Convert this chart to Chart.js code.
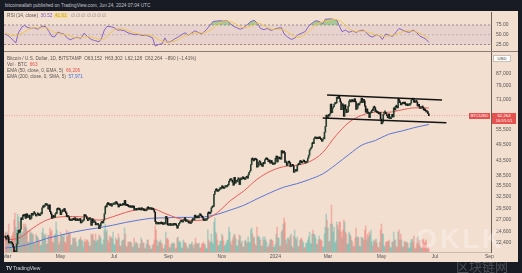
<!DOCTYPE html>
<html><head><meta charset="utf-8">
<script src="https://cdn.jsdelivr.net/npm/chart.js@4.4.1/dist/chart.umd.min.js"></script>
<style>
html,body{margin:0;padding:0;background:#181b24;width:522px;height:273px;overflow:hidden;font-family:"Liberation Sans",Arial,sans-serif;}
#panel{position:absolute;left:4px;top:11px;width:514px;height:251px;background:#f2dfd0;}
#sep{position:absolute;left:4px;top:51px;width:514px;height:1px;background:#8a7d74;}
canvas{position:absolute;}
.t{position:absolute;white-space:nowrap;font-size:4.7px;line-height:6px;color:#5a5550;}
.tag{position:absolute;color:#fff;background:#e4514e;font-size:4.3px;line-height:5px;text-align:center;white-space:nowrap;}
</style></head><body>
<div id="panel"></div>
<canvas id="rsi" width="514" height="39" style="left:4px;top:12px;width:514px;height:39px"></canvas>
<div id="sep"></div>
<canvas id="main" width="514" height="210" style="left:4px;top:52px;width:514px;height:210px"></canvas>

<div class="t" style="left:5px;top:3px;color:#c3c6ce">bitcoinwallah published on TradingView.com, Jun 24, 2024 07:04 UTC</div>
<div class="t" style="left:7px;top:13px">RSI (14, close) <span style="color:#7e57c2">&nbsp;30.52&nbsp;</span><span style="color:#c9a227;background:rgba(247,214,90,0.45)">&nbsp;41.61&nbsp;</span> <span style="color:#8a8580">&nbsp;∅ ∅ ∅ ∅ ∅ ∅ ∅</span></div>
<div class="t" style="left:7px;top:55.5px">Bitcoin / U.S. Dollar, 1D, BITSTAMP &nbsp;O63,152 &nbsp;H63,302 &nbsp;L62,128 &nbsp;C62,264 &nbsp;−890 (−1.41%)</div>
<div class="t" style="left:7px;top:61.7px">Vol · BTC <span style="color:#e4514e">&nbsp;663</span></div>
<div class="t" style="left:7px;top:67.9px">EMA (50, close, 0, EMA, 5) <span style="color:#e4514e">&nbsp;66,206</span></div>
<div class="t" style="left:7px;top:74px">EMA (200, close, 0, SMA, 5) <span style="color:#3f6fd8">&nbsp;57,971</span></div>
<div style="position:absolute;left:493px;top:55px;width:18px;height:7px;background:#fff;border:0.5px solid #c8bfb8;box-sizing:border-box;font-size:4.3px;line-height:6px;text-align:center;color:#333">USD</div>
<div id="symTag" class="tag" style="left:469px;width:21px;height:6px;line-height:6px">BTCUSD</div>
<div id="priceTag" class="tag" style="left:492px;width:24px;height:11px;padding-top:0.5px;box-sizing:border-box">62,264<br>10:55:51</div>
<div style="position:absolute;left:416px;top:224px;font-size:27px;font-weight:bold;letter-spacing:3px;color:rgba(255,255,255,0.3);white-space:nowrap">OKLK</div>
<div style="position:absolute;left:456px;top:258px;font-size:13px;line-height:15px;font-family:'Noto Sans CJK SC';color:rgba(255,255,255,0.22);white-space:nowrap">区块链网</div>
<div class="t" style="left:6px;top:265px;font-size:5px;color:#d4d6dc"><b style="letter-spacing:-0.4px">TV</b> TradingView</div>

<script>
const FONT = '"Liberation Sans", Arial, sans-serif';
const startDay = -2;           // Feb 27, 2023 (day 0 = Mar 1, 2023)
const firstOpen = 235;          // hundreds of USD
// daily closes, hundreds of USD, Feb 27 2023 .. Jun 24 2024
const closes = [234,231,
236,235,224,224,224,224,222,217,204,202,206,222,242,248,244,250,274,270,280,278,282,273,283,275,275,280,271,273,284,280,285,
285,282,278,282,282,280,279,283,283,297,302,299,304,305,303,303,294,304,288,283,273,278,276,275,283,284,295,293,293,292,
281,287,290,289,295,289,285,277,276,276,270,268,268,269,272,270,274,268,269,271,268,269,272,263,265,267,269,281,278,277,272,
268,273,271,271,258,272,264,265,265,259,259,259,259,251,256,263,265,263,269,283,300,299,307,306,305,303,307,301,305,305,
306,306,312,308,305,299,304,303,302,304,306,304,315,303,303,302,301,299,299,298,299,298,301,292,292,294,292,293,294,293,292,
297,292,292,291,290,290,292,298,296,294,294,294,293,294,292,287,266,261,261,262,261,261,264,262,261,260,261,261,277,273,259,
258,259,260,258,258,258,262,259,259,258,252,258,262,265,266,266,265,268,272,271,266,266,266,263,263,262,264,270,269,270,
280,275,274,278,274,280,280,279,276,274,269,268,269,269,272,285,284,283,287,297,299,300,331,339,345,342,339,341,345,345,347,
354,349,347,351,351,351,354,357,367,373,371,371,365,356,379,362,366,366,374,375,358,374,373,377,378,375,373,378,379,377,
387,395,400,420,441,438,433,442,437,438,412,415,429,430,419,422,414,427,423,437,439,440,437,430,436,425,434,426,421,421,423,
442,450,429,442,442,440,439,470,461,466,463,428,429,417,425,432,427,413,416,417,416,395,399,401,399,418,421,420,433,429,426,
431,432,430,426,427,431,443,453,472,478,483,500,497,518,519,521,517,521,518,523,519,513,507,516,517,545,571,625,612,
624,621,632,683,638,661,669,683,685,690,721,715,731,714,695,653,684,676,619,679,655,638,641,672,700,700,695,708,699,696,713,
697,655,660,685,678,689,694,716,691,706,701,672,640,657,634,638,613,635,638,650,649,668,664,643,645,638,635,631,638,606,
583,591,629,639,640,632,623,612,631,608,608,615,629,616,663,652,671,669,663,715,701,691,679,685,693,685,694,683,676,684,675,
677,678,688,706,711,708,694,693,697,695,673,682,668,660,662,666,665,652,650,648,641,643,632,622.64];
// daily volume (relative units)
const volumes = [20,18,
20,18,28,10,9,15,17,20,32,39,25,22,38,35,30,22,33,18,20,28,25,28,25,22,10,10,22,18,20,18,17,
9,8,18,16,15,13,11,6,7,20,24,18,16,18,8,8,17,16,24,20,22,10,9,17,18,30,22,15,7,10,
20,16,18,15,18,10,9,22,15,20,18,20,7,7,14,13,14,14,10,5,6,12,13,15,12,11,5,10,13,10,12,
12,10,6,6,18,17,18,12,11,18,10,12,12,17,16,14,8,7,12,22,28,20,22,12,9,16,14,15,13,20,
8,7,14,12,12,18,14,6,6,11,12,12,24,18,6,5,10,10,10,10,9,5,5,14,8,10,9,8,4,4,8,
14,12,9,9,4,3,8,12,12,7,6,3,3,7,8,12,26,22,12,6,10,10,12,9,8,4,3,7,20,13,14,
12,5,4,8,8,9,9,8,3,4,14,15,10,11,9,4,4,12,10,9,9,6,3,4,8,7,8,10,7,4,
8,14,9,8,8,9,4,4,8,8,10,8,7,3,4,22,12,9,10,18,10,8,30,34,20,18,12,6,7,11,11,
18,16,11,6,7,9,12,12,25,20,10,7,12,15,18,17,13,6,6,12,17,16,9,11,5,5,11,12,10,9,
15,10,9,22,24,18,14,15,8,6,25,15,16,14,12,6,6,15,12,15,12,10,5,5,8,12,13,12,11,5,5,
8,18,25,14,14,6,6,20,22,28,34,30,12,8,14,14,12,16,18,6,4,16,22,14,12,15,5,6,12,13,14,
11,9,4,5,9,9,12,15,20,9,8,18,22,18,17,14,8,7,12,16,13,12,11,5,5,18,25,38,32,
24,10,11,28,47,28,20,25,9,11,30,27,22,30,30,20,14,22,32,30,20,18,8,8,20,18,16,12,10,5,6,
14,24,15,15,14,6,5,15,14,14,12,22,26,12,18,15,20,17,22,10,6,12,10,12,13,9,5,4,10,22,
28,18,18,7,5,10,10,11,10,12,5,4,10,10,20,12,12,5,5,20,22,12,18,12,5,5,10,11,9,10,9,
4,4,9,12,13,10,16,4,3,8,14,16,11,12,4,4,12,13,9,10,12,3,5,3];

const emaDays = [-2,15,30,45,60,75,90,105,120,135,150,165,180,195,210,225,240,255,270,285,300,315,330,345,360,375,390,405,420,435,450,465,481];
const ema50  = [22900,23400,25300,26900,27600,27700,27500,26900,27600,28600,29300,29500,28400,27300,26800,27000,28600,31500,34000,37300,39800,41300,41800,43000,46300,53000,59000,62500,64000,64000,65200,66300,66206];
const ema200 = [21500,21800,22400,23200,23800,24400,24900,25300,25800,26400,26900,27300,27400,27500,27500,27600,28200,29200,30300,31900,33500,35000,36000,37300,39000,42000,45600,49200,51000,53600,55000,56600,57971];

const rsiDays = [-2,3,7,10,13,17,20,23,28,31,35,40,44,48,51,54,58,61,65,68,72,76,80,84,88,92,96,100,105,108,111,114,118,122,126,130,134,138,142,146,150,154,158,162,166,169,173,177,180,183,187,191,195,199,203,207,211,214,218,222,226,230,235,239,243,247,251,254,258,262,266,270,274,278,282,286,289,293,297,301,305,309,313,316,320,324,328,332,336,340,344,348,352,356,360,363,366,369,373,376,379,382,386,390,394,398,402,406,410,413,417,421,425,428,432,436,440,444,447,451,455,459,463,467,471,475,478,481];
const rsiVals = [52,45,36,29,55,70,74,69,66,68,64,72,71,58,46,44,57,54,52,43,37,41,44,40,54,45,38,35,32,42,62,71,71,68,62,62,60,55,52,50,51,48,49,46,42,21,25,27,42,30,33,39,44,50,55,49,55,60,56,52,60,70,84,85,86,85,86,80,72,68,64,68,76,84,87,78,66,63,66,61,64,67,68,52,44,38,41,50,54,58,72,80,86,84,78,90,90,91,89,88,72,58,62,56,60,56,60,62,55,47,44,50,47,38,52,48,46,58,66,62,58,56,62,56,46,42,38,30.52];
const rsiMaDays = [-2,6,14,22,30,38,46,54,62,70,78,86,94,102,110,118,126,134,142,150,158,166,174,182,190,198,206,214,222,230,238,246,254,262,270,278,286,294,302,310,318,326,334,342,350,358,366,374,382,390,398,406,414,422,430,438,446,454,462,470,478,481];
const rsiMaVals = [55,48,50,60,68,67,67,56,52,49,42,43,45,40,38,55,66,64,57,52,50,47,36,31,33,41,50,54,55,59,72,83,84,76,68,72,80,72,64,64,60,48,44,54,72,82,86,89,82,66,58,59,55,49,46,48,53,60,59,55,44,41];

const priceTicks = [87000,79000,71000,55500,49500,43500,38500,35500,32500,29500,27000,24600,22400];
const rsiTicks = [25,50,75];
const monthDays = [0,61,122,184,245,306,366,427,488,550];
const monthLabels = ['Mar','May','Jul','Sep','Nov','2024','Mar','May','Jul','Sep'];
const upperDays = [365,496], upperPrices = [73500,70600];
const lowerDays = [360,501], lowerPrices = [61100,58800];
const lastPrice = 62264;

const xMin = -3.42, xMax = 551.9;
const pts = (xs, ys) => xs.map((x,i)=>({x, y: ys[i]}));

const candleData = closes.map((c,i)=>({x:startDay+i, y:[(i?closes[i-1]:firstOpen)*100, c*100]}));
const isUp = candleData.map(d=>d.y[1]>=d.y[0]);
const candleColors = isUp.map(u=>u?'#27402f':'#141414');
const volData = volumes.map((v,i)=>({x:startDay+i, y:v}));
const volColors = isUp.map(u=>u?'rgba(38,166,154,0.33)':'rgba(239,83,80,0.33)');

const axisFont = {size:5, family:FONT};
const noPad = a => { a.paddingTop=0; a.paddingBottom=0; a.paddingLeft=0; a.paddingRight=0; };

const rsiDecor = {
  id:'rsiDecor',
  beforeDatasetsDraw(c){
    const {ctx, chartArea:a, scales:{y}} = c;
    const y75=y.getPixelForValue(75), y25=y.getPixelForValue(25), y50=y.getPixelForValue(50);
    ctx.save();
    ctx.fillStyle='rgba(126,87,194,0.09)';
    ctx.fillRect(a.left,y75,a.right-a.left,y25-y75);
    ctx.setLineDash([2,2]); ctx.lineWidth=0.8;
    ctx.strokeStyle='rgba(110,105,115,0.85)';
    [y75,y25].forEach(v=>{ctx.beginPath();ctx.moveTo(a.left,v);ctx.lineTo(a.right,v);ctx.stroke();});
    ctx.strokeStyle='rgba(110,105,115,0.4)';
    ctx.beginPath();ctx.moveTo(a.left,y50);ctx.lineTo(a.right,y50);ctx.stroke();
    ctx.restore();
  }
};

new Chart(document.getElementById('rsi'), {
  type:'line',
  data:{datasets:[
    {data:pts(rsiMaDays,rsiMaVals), borderColor:'#f0c542', borderWidth:0.9, pointRadius:0, tension:0.35},
    {data:pts(rsiDays,rsiVals), borderColor:'#7e57c2', borderWidth:0.9, pointRadius:0, tension:0,
      fill:{target:{value:75}, above:'rgba(76,175,80,0.45)', below:'rgba(0,0,0,0)'}},
    {data:pts(rsiDays,rsiVals), borderWidth:0, borderColor:'rgba(0,0,0,0)', pointRadius:0, tension:0,
      fill:{target:{value:25}, above:'rgba(0,0,0,0)', below:'rgba(242,54,69,0.35)'}}
  ]},
  options:{responsive:false, animation:false, devicePixelRatio:1, events:[], layout:{padding:0},
    plugins:{legend:{display:false}, tooltip:{enabled:false}},
    scales:{
      x:{type:'linear', min:xMin, max:xMax, display:false, bounds:'data'},
      y:{type:'linear', position:'right', min:8.3, max:108.3, bounds:'data',
        afterFit(a){a.width=27; noPad(a);},
        afterBuildTicks(a){a.ticks=rsiTicks.map(v=>({value:v}));},
        ticks:{font:axisFont, color:'#555', padding:5, autoSkip:false, callback:v=>Number(v).toFixed(2)},
        grid:{display:false, drawTicks:false}, border:{display:true, color:'#6b625c', width:1}}
    }
  },
  plugins:[rsiDecor]
});

const mainChart = new Chart(document.getElementById('main'), {
  type:'bar',
  data:{datasets:[
    {type:'bar', data:volData, yAxisID:'yv', backgroundColor:volColors, barThickness:1, grouped:false, order:10},
    {type:'line', data:[{x:xMin,y:lastPrice},{x:xMax,y:lastPrice}], yAxisID:'y', borderColor:'rgba(228,81,78,0.6)', borderWidth:0.7, borderDash:[1,1.5], pointRadius:0, order:9},
    {type:'line', data:pts(emaDays,ema200), yAxisID:'y', borderColor:'#5a76d4', borderWidth:1, pointRadius:0, cubicInterpolationMode:'monotone', order:6},
    {type:'line', data:pts(emaDays,ema50), yAxisID:'y', borderColor:'#e45c57', borderWidth:1, pointRadius:0, cubicInterpolationMode:'monotone', order:5},
    {type:'bar', data:candleData, yAxisID:'y', backgroundColor:candleColors, barThickness:1, minBarLength:1.5, grouped:false, order:3},
    {type:'line', data:pts(upperDays,upperPrices), yAxisID:'y', borderColor:'#141414', borderWidth:1.3, pointRadius:0, order:1},
    {type:'line', data:pts(lowerDays,lowerPrices), yAxisID:'y', borderColor:'#141414', borderWidth:1.3, pointRadius:0, order:1}
  ]},
  options:{responsive:false, animation:false, devicePixelRatio:1, events:[], layout:{padding:0},
    plugins:{legend:{display:false}, tooltip:{enabled:false}},
    scales:{
      x:{type:'linear', min:xMin, max:xMax, bounds:'data', offset:false,
        afterFit(a){a.height=10; noPad(a);},
        afterBuildTicks(a){a.ticks=monthDays.map(v=>({value:v}));},
        ticks:{font:axisFont, color:'#555', padding:2, autoSkip:false, maxRotation:0, callback:(v,i)=>monthLabels[i]},
        grid:{display:false, drawTicks:false, offset:false}, border:{display:true, color:'#cdbcae'}},
      y:{type:'logarithmic', position:'right', min:20824, max:103800, bounds:'data',
        afterFit(a){a.width=27; noPad(a);},
        afterBuildTicks(a){a.ticks=priceTicks.map(v=>({value:v}));},
        ticks:{font:axisFont, color:'#555', padding:5, autoSkip:false, callback:v=>Number(v).toLocaleString('en-US')},
        grid:{display:false, drawTicks:false}, border:{display:true, color:'#6b625c', width:1}},
      yv:{type:'linear', display:false, min:0, max:200}
    }
  }
});

const py = mainChart.scales.y.getPixelForValue(lastPrice) + 52;
document.getElementById('priceTag').style.top = (py - 3) + 'px';
document.getElementById('symTag').style.top = (py - 3) + 'px';
</script>
</body></html>
